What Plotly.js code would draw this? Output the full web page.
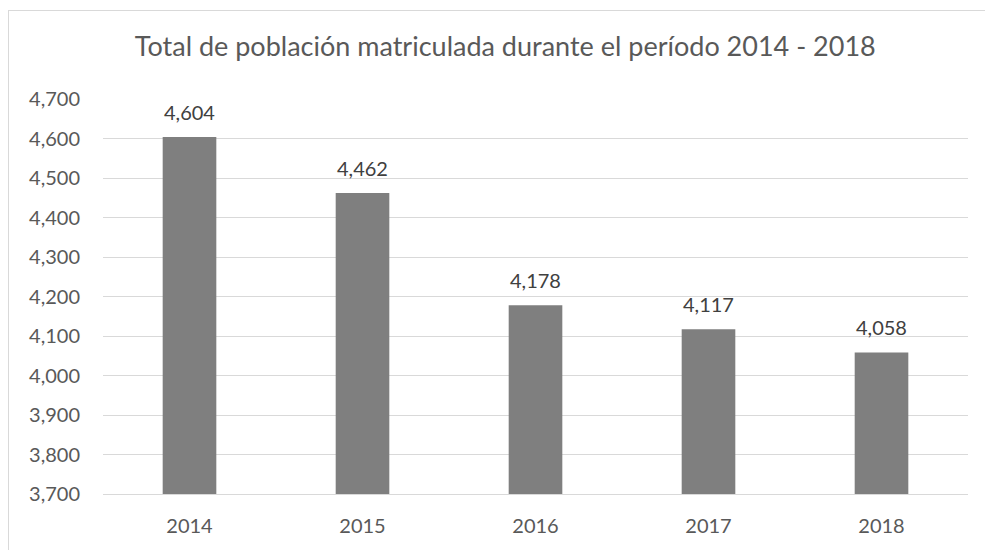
<!DOCTYPE html>
<html>
<head>
<meta charset="utf-8">
<script src="https://cdn.plot.ly/plotly-3.0.1.min.js"></script>
<style>
html,body{margin:0;padding:0;background:#fff;}
#wrap{position:relative;width:985px;height:550px;overflow:hidden;}
#chart{position:absolute;left:0;top:0;width:985px;height:550px;}
#frame{position:absolute;left:8px;top:10px;width:990px;height:560px;border-left:1px solid #d9d9d9;border-top:1px solid #d9d9d9;pointer-events:none;}
</style>
</head>
<body>
<div id="wrap"><div id="chart"></div><div id="frame"></div></div>
<script>
const years = ['2014', '2015', '2016', '2017', '2018'];
const enrolled = [4604, 4462, 4178, 4117, 4058];
const yTicks = [3700, 3800, 3900, 4000, 4100, 4200, 4300, 4400, 4500, 4600, 4700];

const fontFam = 'Lato, "Open Sans", sans-serif';

Plotly.newPlot('chart', [{
  type: 'bar',
  x: years,
  y: enrolled,
  marker: {color: '#7f7f7f'},
  hoverinfo: 'none'
}, {
  type: 'scatter',
  mode: 'markers+text',
  x: years,
  y: enrolled,
  marker: {size: 18, opacity: 0},
  text: enrolled.map(v => v.toLocaleString('en-US')),
  textposition: 'top center',
  textfont: {family: fontFam, size: 20, color: '#404040'},
  cliponaxis: false,
  hoverinfo: 'none'
}], {
  width: 985, height: 550,
  margin: {l: 103, r: 17, t: 99, b: 56},
  paper_bgcolor: '#ffffff', plot_bgcolor: '#ffffff',
  bargap: 0.69,
  showlegend: false,
  title: {text: 'Total de población matriculada durante el período 2014 - 2018',
          font: {family: fontFam, size: 27, color: '#595959'},
          x: 0.513, xanchor: 'center', y: 0.915, yanchor: 'middle'},
  xaxis: {type: 'category', showgrid: false, zeroline: false,
          showline: true, linecolor: '#d9d9d9', linewidth: 1,
          ticks: '', tickfont: {family: fontFam, size: 20, color: '#595959'},
          ticklabelstandoff: 14},
  yaxis: {range: [3700, 4700], tickvals: yTicks, tickformat: ',',
          showgrid: true, gridcolor: '#d9d9d9', gridwidth: 1, zeroline: false,
          showline: false, ticks: '',
          tickfont: {family: fontFam, size: 20, color: '#595959'},
          ticklabelstandoff: 22}
}, {staticPlot: true});
</script>
</body>
</html>
